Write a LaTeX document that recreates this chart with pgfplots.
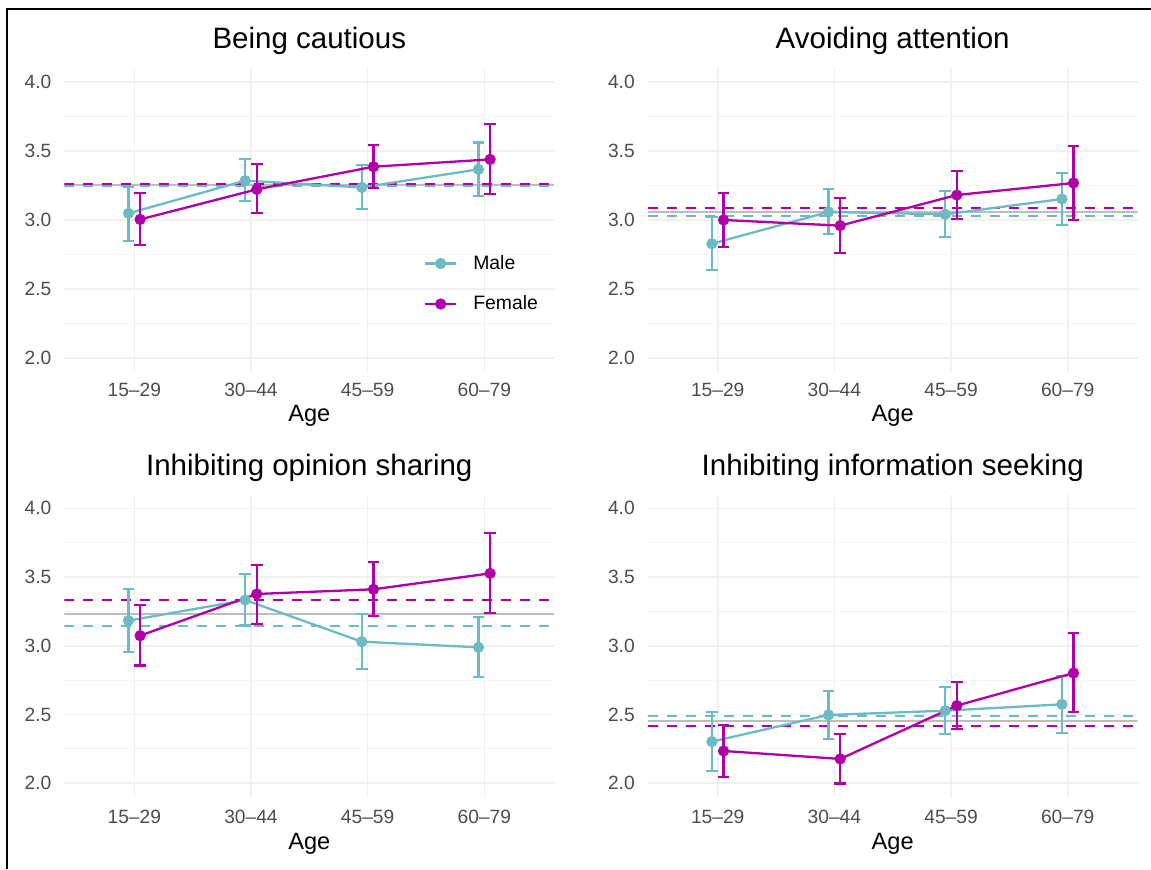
\documentclass[border=0pt]{standalone}
\usepackage{fontspec}
\setmainfont{Liberation Sans}
\usepackage{pgfplots}
\usepackage{pgfplotstable}
\pgfplotsset{compat=1.18}

\definecolor{male}{HTML}{6CBBC2}
\definecolor{female}{HTML}{AF00A5}
\definecolor{refgrey}{HTML}{BDBDBD}
\definecolor{gridmaj}{HTML}{F0F0F0}
\definecolor{gridmin}{HTML}{F6F6F6}
\definecolor{ticktext}{HTML}{4D4D4D}

% x = age group index; m = male mean, mlo/mhi = male CI; f = female
\pgfplotstableread{
x m mlo mhi f flo fhi
1 3.046 2.848 3.239 3.002 2.814 3.191
2 3.283 3.133 3.440 3.220 3.046 3.403
3 3.234 3.080 3.396 3.384 3.227 3.541
4 3.365 3.171 3.560 3.437 3.186 3.693
}\tbBC
\pgfplotstableread{
x m mlo mhi f flo fhi
1 2.826 2.635 3.022 2.998 2.802 3.191
2 3.056 2.896 3.220 2.957 2.756 3.157
3 3.039 2.872 3.208 3.179 3.005 3.353
4 3.150 2.961 3.341 3.266 2.998 3.536
}\tbAA
\pgfplotstableread{
x m mlo mhi f flo fhi
1 3.183 2.955 3.411 3.074 2.856 3.297
2 3.333 3.147 3.520 3.377 3.159 3.590
3 3.030 2.834 3.229 3.411 3.215 3.607
4 2.989 2.771 3.212 3.527 3.236 3.821
}\tbIOS
\pgfplotstableread{
x m mlo mhi f flo fhi
1 2.303 2.092 2.519 2.235 2.048 2.424
2 2.497 2.320 2.674 2.177 1.998 2.361
3 2.528 2.356 2.698 2.565 2.393 2.737
4 2.574 2.364 2.783 2.802 2.519 3.091
}\tbIIS

\pgfplotsset{
  every error bar/.append style={line width=1.1pt},
  panel/.style={
    scale only axis, width=245pt,
    xmin=0.4, xmax=4.6, ymin=1.9, ymax=4.1,
    xtick={1,2,3,4}, xticklabels={15–29,30–44,45–59,60–79},
    ytick={2,2.5,3,3.5,4}, minor ytick={2.25,2.75,3.25,3.75},
    grid=both,
    major grid style={line width=0.8pt, color=gridmaj},
    minor grid style={line width=0.5pt, color=gridmin},
    axis line style={draw=none},
    major tick length=0pt, minor tick length=0pt,
    tick style={draw=none},
    yticklabel style={anchor=east, inner sep=0pt, xshift=-6.3pt,
      font=\fontsize{9.6}{11}\selectfont, text=ticktext,
      /pgf/number format/.cd, fixed, fixed zerofill, precision=1, assume math mode=true},
    xticklabel style={anchor=center, inner sep=0pt, yshift=-9.4pt,
      font=\fontsize{9.6}{11}\selectfont, text=ticktext},
    every axis title/.style={at={(0.5,1)}, anchor=center, yshift=13.6pt,
      font=\fontsize{14.75}{17}\selectfont},
    xlabel=Age,
    every axis x label/.style={at={(axis description cs:0.5,0)}, anchor=center, yshift=-22pt,
      font=\fontsize{11.8}{14}\selectfont},
    legend image code/.code={%
      \draw[##1, mark repeat=2, mark phase=2] plot coordinates {(0pt,0pt) (7.9pt,0pt) (15.8pt,0pt)};
      \path[draw=none, fill=none] (0pt,0pt) -- (24.2pt,0pt);},
  },
  refl/.style={line width=1pt, forget plot},
  mstyle/.style={color=male, line width=1.15pt, mark=*, mark size=2.65pt,
    mark options={solid, fill=male, line width=0.3pt},
    error bars/.cd, y dir=both, y explicit,
    error bar style={line width=1.1pt, color=male},
    error mark options={rotate=90, mark size=2.9pt, line width=1.1pt, color=male}},
  fstyle/.style={color=female, line width=1.15pt, mark=*, mark size=2.65pt,
    mark options={solid, fill=female, line width=0.3pt},
    error bars/.cd, y dir=both, y explicit,
    error bar style={line width=1.1pt, color=female},
    error mark options={rotate=90, mark size=2.9pt, line width=1.1pt, color=female}},
}

\newcommand{\panelplots}[4]{%
  \addplot[refl, refgrey] coordinates {(0.4,#2) (4.6,#2)};
  \addplot[refl, male, dash pattern=on 5pt off 4.5pt] coordinates {(0.4,#3) (4.6,#3)};
  \addplot[refl, female, dash pattern=on 5pt off 4.5pt] coordinates {(0.4,#4) (4.6,#4)};
  \addplot[mstyle] table[x expr=\thisrow{x}-0.05, y=m,
    y error plus expr=\thisrow{mhi}-\thisrow{m},
    y error minus expr=\thisrow{m}-\thisrow{mlo}] {#1};
  \addplot[fstyle] table[x expr=\thisrow{x}+0.05, y=f,
    y error plus expr=\thisrow{fhi}-\thisrow{f},
    y error minus expr=\thisrow{f}-\thisrow{flo}] {#1};
}

\begin{document}
\begin{tikzpicture}
\path[use as bounding box] (0pt,0pt) rectangle (575.5pt,434.5pt);

\begin{axis}[panel, height=151.8pt, at={(32.15pt,248.75pt)}, anchor=south west,
  title={Being cautious},
  legend style={draw=none, fill=none, inner sep=0pt, at={(0.7327,0.289)}, anchor=west,
    row sep=11.7pt, font=\fontsize{9.7}{11}\selectfont, cells={anchor=west},
    nodes={inner sep=0pt}}]
\panelplots{\tbBC}{3.250}{3.245}{3.256}
\addlegendentry{Male}
\addlegendentry{Female}
\end{axis}

\begin{axis}[panel, height=151.8pt, at={(323.85pt,248.75pt)}, anchor=south west,
  title={Avoiding attention}]
\panelplots{\tbAA}{3.056}{3.029}{3.085}
\end{axis}

\begin{axis}[panel, height=151.2pt, at={(32.15pt,36pt)}, anchor=south west,
  title={Inhibiting opinion sharing}, xticklabel style={yshift=-0.6pt},
  every axis x label/.append style={yshift=-1.2pt}]
\panelplots{\tbIOS}{3.234}{3.144}{3.333}
\end{axis}

\begin{axis}[panel, height=151.2pt, at={(323.85pt,36pt)}, anchor=south west,
  title={Inhibiting information seeking}, xticklabel style={yshift=-0.6pt},
  every axis x label/.append style={yshift=-1.2pt}]
\panelplots{\tbIIS}{2.455}{2.491}{2.415}
\end{axis}

\draw[line width=1.2pt] (3.35pt,0pt) -- (3.35pt,429.9pt) -- (575.5pt,429.9pt);
\end{tikzpicture}
\end{document}
